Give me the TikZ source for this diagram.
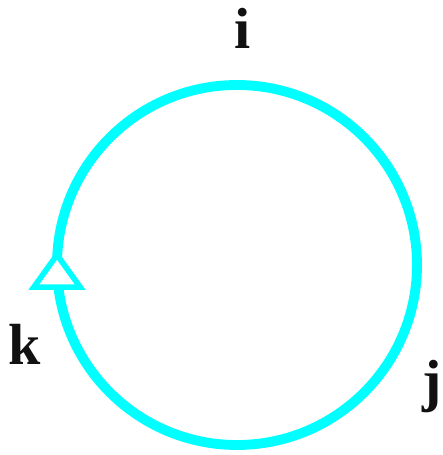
\documentclass[tikz,border=0pt]{standalone}
\usepackage{fontspec}
\setmainfont{Liberation Serif}
\usepackage{tikz}
\usetikzlibrary{positioning,arrows.meta,decorations.markings,calc}
\definecolor{ink}  {HTML}{111111}
\definecolor{aqua} {HTML}{00FFFF}
\tikzset{
  >=Stealth,
  % --- labels
  lbl/.style  = {font=\fontsize{33}{36}\selectfont\bfseries, text=ink, inner sep=0pt},
  % --- loop
  ring/.style = {draw=aqua, line width=5.6pt},
  flow/.style = {postaction={decorate}, decoration={markings,
                 mark=at position 0.5 with {\arrow[xshift=0.3cm]{Triangle[open, fill=white,
                 length=0.8cm, width=1.12cm, line width=3.2pt]}}}},
}
\begin{document}
\begin{tikzpicture}
  \useasboundingbox (0,0) rectangle (8.84,9.1);
  \coordinate (c) at (4.74,3.8);
  \node[lbl, anchor=base] (i) at (4.86,8.12) {i};
  \node[lbl, anchor=base] (j) at (8.64,1.08) {j};
  \node[lbl, anchor=base] (k) at (0.5,1.8) {k};
  % loop, drawn clockwise so the mark points up on the left
  \draw[ring, flow] ($(c)+(0:3.6)$) arc[start angle=0, end angle=-360, radius=3.6];
\end{tikzpicture}
\end{document}
